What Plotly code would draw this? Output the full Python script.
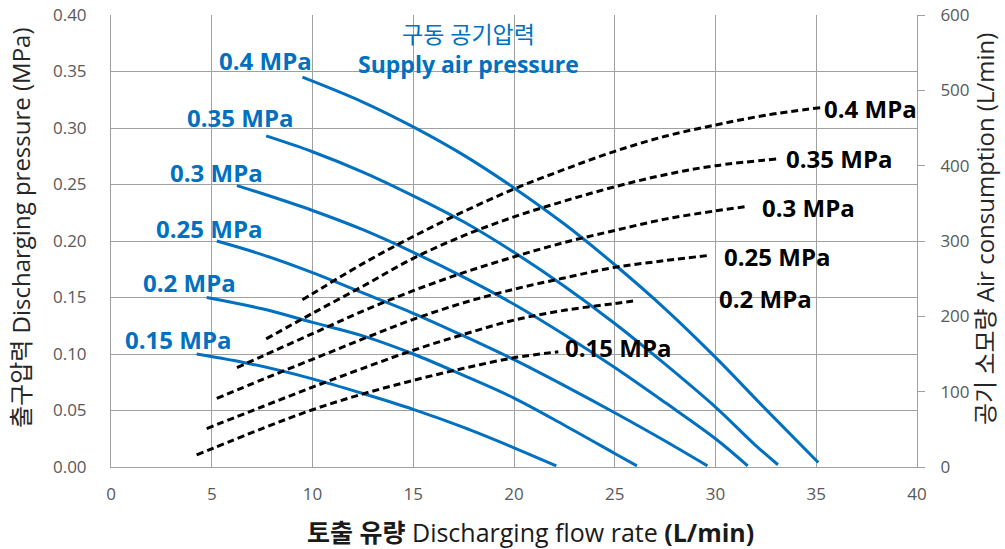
import plotly.graph_objects as go

# ---- Discharging pressure curves (left axis, MPa) ----
supply_labels = ["0.4 MPa", "0.35 MPa", "0.3 MPa", "0.25 MPa", "0.2 MPa", "0.15 MPa"]

flow_p40 = [9.5, 12.5, 15, 17.5, 20, 22.5, 25, 27.5, 30, 32.5, 35.1]
pres_p40 = [0.345, 0.323, 0.301, 0.276, 0.247, 0.215, 0.179, 0.140, 0.097, 0.051, 0.004]

flow_p35 = [7.7, 10, 12.5, 15, 17.5, 20, 22.5, 25, 27.5, 30, 32, 33.1]
pres_p35 = [0.293, 0.279, 0.261, 0.240, 0.217, 0.190, 0.160, 0.127, 0.091, 0.053, 0.019, 0.002]

flow_p30 = [6.25, 7.5, 10, 12.5, 15, 17.5, 20, 22.5, 25, 27.5, 30, 31.6]
pres_p30 = [0.249, 0.242, 0.227, 0.210, 0.190, 0.168, 0.144, 0.117, 0.088, 0.057, 0.025, 0.001]

flow_p25 = [5.25, 7.5, 10, 12.5, 15, 17.5, 20, 22.5, 25, 27.5, 29.6]
pres_p25 = [0.200, 0.188, 0.172, 0.154, 0.136, 0.116, 0.095, 0.072, 0.048, 0.023, 0.001]

flow_p20 = [4.75, 7.5, 10, 12.5, 15, 17.5, 20, 22.5, 25, 26.1]
pres_p20 = [0.150, 0.140, 0.128, 0.116, 0.100, 0.081, 0.061, 0.037, 0.012, 0.001]

flow_p15 = [4.25, 7, 10, 12.5, 15, 17.5, 20, 22.1]
pres_p15 = [0.100, 0.091, 0.078, 0.065, 0.051, 0.035, 0.017, 0.001]

# ---- Air consumption curves (right axis, L/min) ----
flow_a40 = [9.5, 10, 12.5, 15, 17.5, 20, 22.5, 25, 27.5, 30, 32.5, 35.2]
air_a40 = [222, 230, 270, 306, 339, 369, 395, 419, 439, 454, 467, 477]

flow_a35 = [7.7, 10, 12.5, 15, 17.5, 20, 22.5, 25, 27.5, 30, 33.1]
air_a35 = [170, 204, 240, 277, 307, 332, 353, 372, 388, 400, 409]

flow_a30 = [6.25, 7.5, 10, 12.5, 15, 17.5, 20, 22.5, 25, 27.5, 30, 31.6]
air_a30 = [132, 147, 177, 207, 234, 258, 279, 298, 314, 329, 340, 346]

flow_a25 = [5.25, 7.5, 10, 12.5, 15, 17.5, 20, 22.5, 25, 27.5, 29.7]
air_a25 = [91, 116, 143, 170, 196, 218, 236, 251, 265, 274, 281]

flow_a20 = [4.75, 7.5, 10, 12.5, 15, 17.5, 20, 22.5, 25, 26.1]
air_a20 = [51, 80, 106, 131, 155, 176, 195, 208, 217, 221]

flow_a15 = [4.25, 7.5, 10, 12.5, 15, 17.5, 20, 22.2]
air_a15 = [16, 51, 76, 97, 115, 131, 145, 153]

# label anchor positions (data coords)
blue_label_x = [7.69, 6.40, 5.26, 4.84, 3.92, 3.33]
blue_label_y = [0.360, 0.309, 0.261, 0.2115, 0.163, 0.113]
black_label_x = [35.3, 33.4, 32.2, 30.3, 30.05, 22.45]
black_label_y = [476, 410, 345, 279, 224, 159]

x_ticks = [0, 5, 10, 15, 20, 25, 30, 35, 40]
y_left_ticks = [0.00, 0.05, 0.10, 0.15, 0.20, 0.25, 0.30, 0.35, 0.40]
y_right_ticks = [0, 100, 200, 300, 400, 500, 600]

BLUE = "#0070C0"
GRID = "#a0a0a0"
FONT = "Open Sans, Noto Sans CJK KR, sans-serif"

pres_series = [(flow_p40, pres_p40), (flow_p35, pres_p35), (flow_p30, pres_p30),
               (flow_p25, pres_p25), (flow_p20, pres_p20), (flow_p15, pres_p15)]
air_series = [(flow_a40, air_a40), (flow_a35, air_a35), (flow_a30, air_a30),
              (flow_a25, air_a25), (flow_a20, air_a20), (flow_a15, air_a15)]

fig = go.Figure()
for (xs, ys), name in zip(pres_series, supply_labels):
    fig.add_trace(go.Scatter(x=xs, y=ys, mode="lines", name=name, line_shape="spline",
                             line=dict(color=BLUE, width=3), yaxis="y"))
for (xs, ys), name in zip(air_series, supply_labels):
    fig.add_trace(go.Scatter(x=xs, y=ys, mode="lines", name=name, line_shape="spline",
                             line=dict(color="black", width=3, dash="7px,4px"), yaxis="y2"))

annotations = []
for lx, ly, t in zip(blue_label_x, blue_label_y, supply_labels):
    annotations.append(dict(x=lx, y=ly, xref="x", yref="y", text="<b>%s</b>" % t,
                            showarrow=False, xanchor="center", yanchor="middle",
                            font=dict(family=FONT, size=24, color=BLUE)))
for lx, ly, t in zip(black_label_x, black_label_y, supply_labels):
    annotations.append(dict(x=lx, y=ly, xref="x", yref="y2", text="<b>%s</b>" % t,
                            showarrow=False, xanchor="left", yanchor="middle",
                            font=dict(family=FONT, size=24, color="black")))

annotations += [
    dict(x=0.4435, y=(467 - 34) / 452, xref="paper", yref="paper", text="구동 공기압력",
         showarrow=False, xanchor="center", yanchor="middle",
         font=dict(family=FONT, size=23, color=BLUE)),
    dict(x=0.4435, y=(467 - 64) / 452, xref="paper", yref="paper", text="<b>Supply air pressure</b>",
         showarrow=False, xanchor="center", yanchor="middle",
         font=dict(family=FONT, size=23, color=BLUE)),
    dict(x=0.52, y=(467 - 532) / 452, xref="paper", yref="paper",
         text="<b>토출 유량</b> Discharging flow rate <b>(L/min)</b>",
         showarrow=False, xanchor="center", yanchor="middle",
         font=dict(family=FONT, size=25, color="#1a1a1a")),
    dict(x=(20 - 111) / 806, y=(467 - 228) / 452, xref="paper", yref="paper",
         text="출구압력 Discharging pressure (MPa)", textangle=-90,
         showarrow=False, xanchor="center", yanchor="middle",
         font=dict(family=FONT, size=24, color="#262626")),
    dict(x=(985 - 111) / 806, y=(467 - 229) / 452, xref="paper", yref="paper",
         text="공기 소모량 Air consumption (L/min)", textangle=-90,
         showarrow=False, xanchor="center", yanchor="middle",
         font=dict(family=FONT, size=24, color="#262626")),
]

fig.update_layout(
    width=1005, height=549,
    margin=dict(l=111, r=88, t=15, b=82, autoexpand=False),
    plot_bgcolor="white", paper_bgcolor="white",
    showlegend=False,
    font=dict(family=FONT),
    annotations=annotations,
    xaxis=dict(range=[0, 40], tickvals=x_ticks, showgrid=True, gridcolor=GRID, gridwidth=1,
               zeroline=False, showline=True, linecolor=GRID, linewidth=1, mirror=False,
               ticks="", tickfont=dict(family=FONT, size=17, color="#595959"),
               ticklabelstandoff=12, automargin=False),
    yaxis=dict(range=[0, 0.4], tickvals=y_left_ticks, tickformat=".2f", showgrid=True,
               gridcolor=GRID, gridwidth=1, zeroline=False, showline=True, linecolor=GRID,
               ticks="", tickfont=dict(family=FONT, size=17, color="#595959"),
               ticklabelstandoff=20, automargin=False),
    yaxis2=dict(range=[0, 600], tickvals=y_right_ticks, overlaying="y", side="right",
                showgrid=False, zeroline=False, showline=True, linecolor=GRID, linewidth=1,
                ticks="outside", ticklen=7, tickcolor=GRID,
                tickfont=dict(family=FONT, size=17, color="#595959"), ticklabelstandoff=12,
                automargin=False),
)

fig.write_html("out.html", config={"displayModeBar": False},
               post_script="document.body.style.margin='0';document.body.style.overflow='hidden';")
